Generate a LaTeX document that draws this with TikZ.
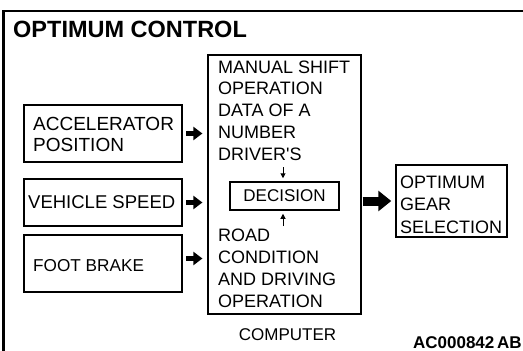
\documentclass[tikz,border=0pt]{standalone}
\usepackage{fontspec}
\setmainfont{Liberation Sans}
\usetikzlibrary{arrows.meta}
\begin{document}
\begin{tikzpicture}[x=1pt,y=-1pt,
  txt/.style={inner sep=0pt,anchor=base west,align=left,font=\fontsize{18}{21.7}\selectfont},
  boxline/.style={draw,line width=2pt},
  smallarrow/.style={line width=5pt,-{Triangle[length=9pt,width=13pt]},shorten <=3pt,shorten >=5pt},
  bigarrow/.style={line width=9pt,-{Triangle[length=13pt,width=20pt]},shorten <=1pt,shorten >=4pt},
  thinarrow/.style={line width=1pt,-{Triangle[length=5pt,width=5pt]},shorten >=3pt}]
\useasboundingbox (0,0) rectangle (523,351);
% outer frame
\draw[line width=2.4pt] (3.5,351) -- (3.5,11) -- (523,11);
\node[inner sep=0pt,anchor=base west,font=\fontsize{23.5}{28}\selectfont\bfseries] (title) at (13,37) {OPTIMUM CONTROL};
% input boxes
\node[boxline,minimum width=158pt,minimum height=57pt,inner sep=0pt] (acc) at (103,133.5) {};
\node[boxline,minimum width=158pt,minimum height=47pt,inner sep=0pt] (veh) at (103,202.5) {};
\node[boxline,minimum width=158pt,minimum height=57pt,inner sep=0pt] (foot) at (103,263.5) {};
\node[txt,font=\fontsize{19}{21}\selectfont] (acct) at (33,151) {ACCELERATOR\\POSITION};
\node[txt,font=\fontsize{18.5}{21}\selectfont] (veht) at (28,208.5) {VEHICLE SPEED};
\node[txt,font=\fontsize{17.2}{21}\selectfont] (foott) at (33,271.5) {FOOT BRAKE};
% computer box
\node[draw,line width=1.2pt,minimum width=153pt,minimum height=259pt,inner sep=0pt] (mid) at (284.5,184.5) {};
\node[txt] (upper) at (218,160) {MANUAL SHIFT\\OPERATION\\DATA OF A\\NUMBER\\DRIVER\textquotesingle S};
\node[draw,line width=1.5pt,minimum width=109pt,minimum height=28pt,inner sep=0pt,font=\fontsize{17}{20}\selectfont] (dec) at (284.5,196) {DECISION};
\node[txt] (lower) at (218,307) {ROAD\\CONDITION\\AND DRIVING\\OPERATION};
\node[inner sep=0pt,anchor=base,font=\fontsize{17}{20}\selectfont] (comp) at (287.5,340) {COMPUTER};
\coordinate (dtop) at (283,167);
\coordinate (dbot) at (283,226);
\draw[thinarrow] (dtop) -- (dec.north -| dtop);
\draw[thinarrow] (dbot) -- (dec.south -| dbot);
% output box
\node[draw,line width=1.5pt,minimum width=111pt,minimum height=72pt,inner sep=0pt] (opt) at (451.5,201) {};
\node[txt,font=\fontsize{18}{22.5}\selectfont] (optt) at (400,233) {OPTIMUM\\GEAR\\SELECTION};
% arrows
\draw[smallarrow] (acc.east) -- (acc.east -| mid.west);
\draw[smallarrow] (veh.east) -- (veh.east -| mid.west);
\draw[smallarrow] ([yshift=5pt]foot.east) -- ([yshift=5pt]foot.east -| mid.west);
\draw[bigarrow] (mid.east |- opt.west) -- (opt.west);
\node[inner sep=0pt,anchor=base east,font=\fontsize{17}{20}\selectfont\bfseries] (code) at (522,348) {AC000842\,AB};
\end{tikzpicture}
\end{document}
